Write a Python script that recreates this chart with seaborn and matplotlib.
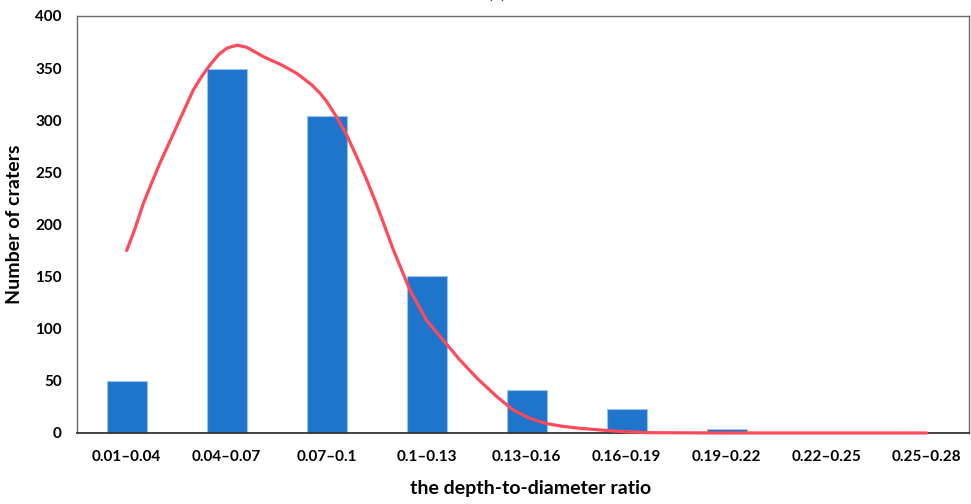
import matplotlib
matplotlib.use("Agg")
import matplotlib.pyplot as plt
import seaborn as sns
import pandas as pd

# ---- data ----
categories = ["0.01–0.04", "0.04–0.07", "0.07–0.1", "0.1–0.13", "0.13–0.16",
              "0.16–0.19", "0.19–0.22", "0.22–0.25", "0.25–0.28"]
counts = [50, 349, 304, 151, 41, 23, 4, 0, 0]

# fitted curve, sampled along the category axis (category index units)
curve_pos = [0.0, 0.083, 0.166, 0.25, 0.333, 0.5, 0.666, 0.75, 0.833, 0.92, 1.0,
             1.1, 1.2, 1.366, 1.55, 1.7, 1.85, 1.933, 2.0,
             2.1, 2.2, 2.3, 2.4, 2.5, 2.666, 2.833, 3.0, 3.166, 3.333, 3.51, 3.7, 3.866,
             4.033, 4.2, 4.366, 4.533, 4.866, 5.2, 6.0, 7.0, 8.0]
curve_val = [175, 196, 220, 240, 259, 294, 329, 342, 353, 363, 369,
             372, 370, 361, 353, 345, 334, 326, 318,
             303, 286, 265, 243, 219, 176, 137, 108, 89, 70, 52, 35, 22,
             14, 9, 6.3, 4.5, 1.9, 0.3, 0, 0, 0]

yticks = [0, 50, 100, 150, 200, 250, 300, 350, 400]

sns.set_theme(style="white")
plt.rcParams['font.family'] = ['Lato', 'DejaVu Sans']

fig = plt.figure(figsize=(9.71, 5.04), dpi=100)
ax = fig.add_axes([0.0793, 0.1409, 0.9187, 0.8274])

bars = pd.DataFrame({"cat": categories, "n": counts})
sns.barplot(data=bars, x="cat", y="n", color="#1f74cc", saturation=1,
            width=0.4, edgecolor="#9cc2ee", linewidth=0.8, ax=ax)

curve = pd.DataFrame({"pos": curve_pos, "val": curve_val})
sns.lineplot(data=curve, x="pos", y="val", color="#ff4a5c", linewidth=2.3,
             ax=ax, zorder=5, clip_on=False)

ax.set_xlim(-0.497, 8.425)
ax.set_ylim(0, 400)
ax.set_yticks(yticks)
ax.set_yticklabels([str(v) for v in yticks], fontsize=11, fontweight="bold")
ax.set_xticks(range(len(categories)))
ax.set_xticklabels(categories, fontsize=11, fontweight="bold")
ax.tick_params(axis="both", length=0, pad=12, colors="black")
ax.tick_params(axis="y", pad=11)

ax.set_xlabel("the depth-to-diameter ratio", fontsize=14, fontweight="bold", color="black")
ax.set_ylabel("Number of craters", fontsize=14, fontweight="bold", color="black")
ax.xaxis.set_label_coords(0.508, -0.113)
ax.yaxis.set_label_coords(-0.061, 0.5)

for name, sp in ax.spines.items():
    sp.set_visible(True)
    sp.set_color("#6a6a6a")
    sp.set_linewidth(1.0)
ax.spines["bottom"].set_color("#333333")
ax.spines["bottom"].set_linewidth(1.3)

fig.text(0.512, 0.998, "(a)", ha="center", va="bottom", fontsize=13,
         fontweight="bold", color="black")

fig.savefig("out.png", dpi=100)
